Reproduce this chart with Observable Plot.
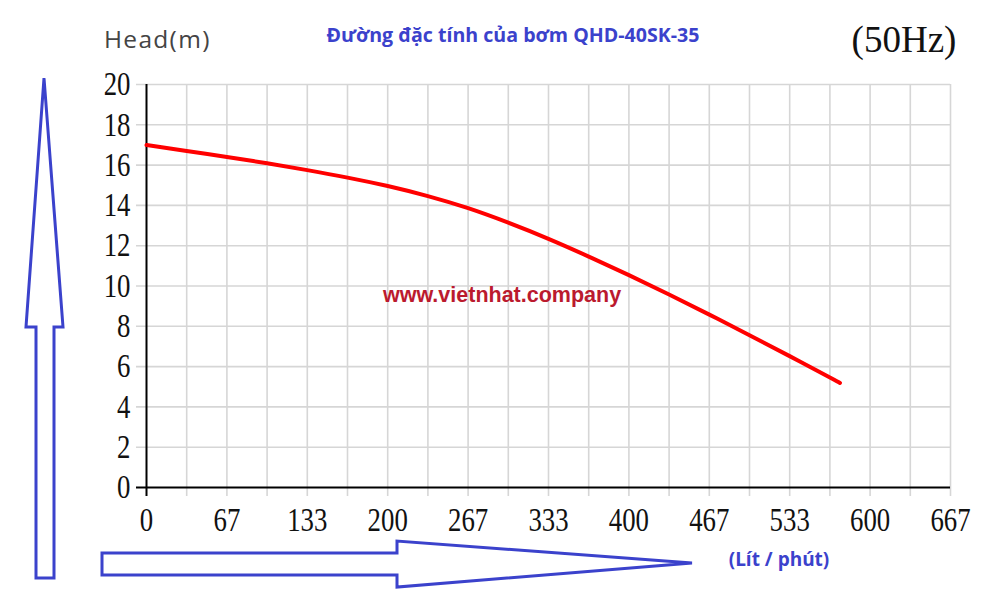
<!DOCTYPE html>
<html>
<head>
<meta charset="utf-8">
<script src="https://cdn.jsdelivr.net/npm/d3@7"></script>
<script src="https://cdn.jsdelivr.net/npm/@observablehq/plot@0.6"></script>
<style>
  html, body { margin: 0; padding: 0; background: #fff; }
  #wrap { position: relative; width: 1000px; height: 591px; overflow: hidden; background: #fff; }
  #wrap > svg { position: absolute; left: 0; top: 0; }
  #overlay { pointer-events: none; }
</style>
</head>
<body>
<div id="wrap"></div>
<script>
// ---- data ----
const flow = [0, 33.3, 66.7, 100, 133.3, 166.7, 200, 233.3, 266.7, 300, 333.3, 366.7, 400, 433.3, 466.7, 500, 533.3, 566.7, 575];
const head = [17.0, 16.70, 16.40, 16.09, 15.75, 15.38, 14.96, 14.46, 13.86, 13.14, 12.34, 11.46, 10.54, 9.58, 8.58, 7.56, 6.52, 5.46, 5.19];

const xTickValues = [0, 66.667, 133.333, 200, 266.667, 333.333, 400, 466.667, 533.333, 600, 666.667];
const xTickLabels = ["0", "67", "133", "200", "267", "333", "400", "467", "533", "600", "667"];
const xGridValues = [33.333, 66.667, 100, 133.333, 166.667, 200, 233.333, 266.667, 300, 333.333, 366.667, 400, 433.333, 466.667, 500, 533.333, 566.667, 600, 633.333, 666.667];
const yTickValues = [0, 2, 4, 6, 8, 10, 12, 14, 16, 18, 20];
const yTickLabels = ["0", "2", "4", "6", "8", "10", "12", "14", "16", "18", "20"];

const titleText = "Đường đặc tính của bơm QHD-40SK-35";
const yAxisTitle = "Head(m)";
const freqText = "(50Hz)";
const unitText = "(Lít / phút)";
const watermark = "www.vietnhat.company";

const points = flow.map((q, i) => ({q, h: head[i]}));
const xLabelOf = new Map(xTickValues.map((v, i) => [v, xTickLabels[i]]));
const yLabelOf = new Map(yTickValues.map((v, i) => [v, yTickLabels[i]]));

const gridColor = "#d6d6d6";
const tickFont = "'Liberation Serif', 'Times New Roman', serif";

const chart = Plot.plot({
  width: 1000,
  height: 591,
  marginLeft: 146,
  marginRight: 50,
  marginTop: 84,
  marginBottom: 104,
  style: {background: "transparent", overflow: "visible"},
  x: {domain: [0, 666.667], axis: null},
  y: {domain: [0, 20], axis: null},
  marks: [
    Plot.ruleX(xGridValues, {stroke: gridColor, strokeWidth: 1.6, insetBottom: -9}),
    Plot.ruleY(yTickValues.filter(d => d > 0), {stroke: gridColor, strokeWidth: 1.6, insetLeft: -10}),
    Plot.ruleY([0], {stroke: "#000", strokeWidth: 2, insetLeft: -10}),
    Plot.ruleX([0], {stroke: "#000", strokeWidth: 2, insetBottom: -9}),
    Plot.line(points, {x: "q", y: "h", stroke: "#ff0000", strokeWidth: 4, curve: "natural", strokeLinecap: "round"}),
    Plot.axisX({ticks: xTickValues, tickFormat: d => xLabelOf.get(d), tickSize: 0, tickPadding: 20,
      fontSize: 33.5, fontFamily: tickFont, fill: "#111", label: null}),
    Plot.axisY({ticks: yTickValues, tickFormat: d => yLabelOf.get(d), tickSize: 0, tickPadding: 16,
      fontSize: 33.5, fontFamily: tickFont, fill: "#111", label: null})
  ]
});
document.getElementById("wrap").appendChild(chart);

// condense the serif tick labels horizontally
chart.querySelectorAll('g[aria-label="x-axis tick label"] text, g[aria-label="y-axis tick label"] text').forEach(t => {
  const tr = t.getAttribute("transform");
  if (tr) {
    t.setAttribute("transform", tr + " scale(0.8,1)");
  } else {
    const x = +(t.getAttribute("x") || 0), y = +(t.getAttribute("y") || 0);
    t.removeAttribute("x"); t.removeAttribute("y");
    t.setAttribute("transform", `translate(${x},${y}) scale(0.8,1)`);
  }
});

// overlay: titles, annotations, decorative arrows
const ns = "http://www.w3.org/2000/svg";
const ov = d3.select("#wrap").append("svg")
  .attr("id", "overlay").attr("width", 1000).attr("height", 591).attr("xmlns", ns);

const blue = "#3b42cc";
ov.append("text").attr("x", 104).attr("y", 48)
  .attr("font-family", "'Open Sans', 'Noto Sans', sans-serif").attr("font-size", 24.5)
  .attr("letter-spacing", 1.3)
  .attr("fill", "#444").text(yAxisTitle);
ov.append("text").attr("x", 513).attr("y", 42).attr("text-anchor", "middle")
  .attr("font-family", "'Open Sans', 'Noto Sans', sans-serif").attr("font-size", 19.6).attr("font-weight", 700)
  .attr("fill", blue).text(titleText);
ov.append("text").attr("x", 904).attr("y", 52).attr("text-anchor", "middle")
  .attr("font-family", tickFont).attr("font-size", 37).attr("fill", "#111").text(freqText);
ov.append("text").attr("x", 779).attr("y", 566).attr("text-anchor", "middle")
  .attr("font-family", "'Open Sans', 'Noto Sans', sans-serif").attr("font-size", 19).attr("font-weight", 700)
  .attr("fill", blue).text(unitText);
ov.append("text").attr("x", 383).attr("y", 302)
  .attr("font-family", "'Liberation Sans', Arial, sans-serif").attr("font-size", 21.5).attr("font-weight", 700)
  .attr("fill", "#bb1a2e").text(watermark);

const arrowStyle = s => s.attr("fill", "none").attr("stroke", blue).attr("stroke-width", 3).attr("stroke-linejoin", "miter");
ov.append("path").attr("d", "M44,78 L63,327 L54,327 L54,578 L36,578 L36,327 L26,327 Z").call(arrowStyle);
ov.append("path").attr("d", "M102,553 L397,553 L397,541 L692,563 L397,587 L397,575 L102,575 Z").call(arrowStyle);
</script>
</body>
</html>
